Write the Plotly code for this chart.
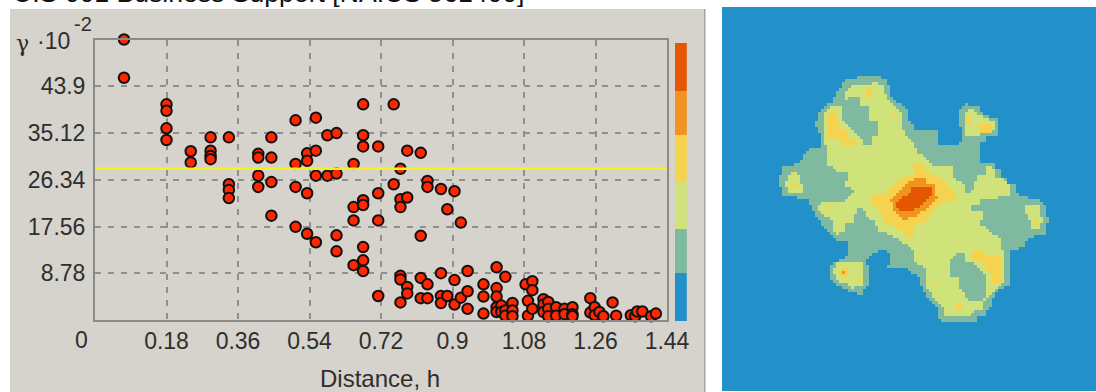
import numpy as np
import plotly.graph_objects as go

W, H = 1096, 392

TITLE = "U.S 001 Business Support [NAICS 561400]"
X_TICKS = [0.18, 0.36, 0.54, 0.72, 0.9, 1.08, 1.26, 1.44]
X_LABELS = ["0.18", "0.36", "0.54", "0.72", "0.9", "1.08", "1.26", "1.44"]
Y_TICKS = [8.78, 17.56, 26.34, 35.12, 43.9]
Y_LABELS = ["8.78", "17.56", "26.34", "35.12", "43.9"]
X_MAX = 1.44
Y_MAX = 52.68
SILL = 28.4

# variogram cloud, grouped by lag distance
CLOUD = [
    (0.073, [52.68, 45.5]),
    (0.180, [40.5, 39.3, 36.0, 33.8]),
    (0.241, [31.7, 29.6]),
    (0.291, [34.3, 31.8, 30.8, 30.2]),
    (0.337, [34.3, 25.5, 24.4, 22.9]),
    (0.411, [31.2, 30.5, 27.1, 25.0]),
    (0.444, [34.3, 30.5, 25.9, 19.6]),
    (0.505, [37.5, 29.3, 25.0, 17.5]),
    (0.534, [31.3, 29.9, 23.8, 16.2]),
    (0.556, [38.0, 31.8, 27.1, 14.6]),
    (0.585, [34.7, 27.1]),
    (0.608, [35.1, 27.5, 15.9, 12.9]),
    (0.651, [29.3, 21.2, 18.7, 10.3]),
    (0.675, [40.5, 34.7, 32.6, 22.5, 21.6, 13.7, 11.2, 9.2]),
    (0.713, [32.6, 23.8, 18.7, 4.5]),
    (0.752, [40.5, 25.5]),
    (0.769, [28.4, 22.7, 21.2, 8.3, 7.6, 3.3]),
    (0.786, [31.8, 23.0, 6.2, 5.0]),
    (0.820, [31.4, 15.8, 7.9, 4.1]),
    (0.837, [26.1, 25.0, 6.7, 4.1]),
    (0.871, [24.6, 8.8, 4.5, 3.2]),
    (0.887, [20.8, 4.5]),
    (0.905, [24.2, 7.5, 2.9]),
    (0.921, [18.3, 4.2]),
    (0.938, [9.2, 5.4, 2.1]),
    (0.978, [6.7, 4.4, 1.2]),
    (1.011, [9.9, 6.0, 4.4, 2.4, 1.5]),
    (1.023, [2.7, 1.5]),
    (1.033, [8.1, 1.8, 0.8]),
    (1.051, [3.2, 1.8, 0.7]),
    (1.084, [6.7]),
    (1.090, [3.6, 0.8]),
    (1.101, [7.3, 5.6, 2.1]),
    (1.129, [3.9, 2.9, 1.5]),
    (1.141, [3.4, 2.1, 0.7]),
    (1.161, [2.4, 0.8]),
    (1.182, [2.1, 1.1]),
    (1.202, [2.4, 1.1, 0.7]),
    (1.247, [4.1, 1.4]),
    (1.258, [2.4, 0.9]),
    (1.270, [1.5]),
    (1.280, [0.7]),
    (1.303, [3.3]),
    (1.312, [0.8]),
    (1.349, [0.9]),
    (1.360, [0.7]),
    (1.365, [1.6]),
    (1.378, [1.6]),
    (1.400, [0.7]),
    (1.412, [1.2]),
]
distance = [d for d, g in CLOUD for _ in g]
gamma = [v for _, g in CLOUD for v in g]

LEVEL_COLORS = ["#2391C9", "#7FB9A0", "#D0E27A", "#F5D34F", "#F0941F", "#E55600"]
LEVEL_SPANS = [48, 44, 47, 47, 44, 48]

MAP_REGIONS = [
    (1, [(856,76),(882,76),(882,79),(888,79),(888,85),(891,85),(891,97),(898,103),(905,105),(907,110),(908,120),(913,125),(914,129),(937,129),(937,146),(955,146),(962,140),(961,127),(958,125),(958,113),(963,107),(967,102),(970,105),(977,105),(982,113),(998,120),(999,135),(987,137),(987,140),(981,143),(981,162),(996,162),(996,168),(1002,168),(1002,177),(1007,178),(1007,183),(1015,185),(1019,196),(1037,199),(1045,205),(1045,215),(1048,217),(1048,222),(1045,223),(1045,234),(1033,235),(1032,239),(1025,240),(1025,245),(1022,247),(1016,250),(1010,252),(1010,272),(1013,273),(1010,275),(1010,285),(1002,288),(995,293),(993,301),(990,307),(987,310),(987,315),(978,317),(978,321),(940,321),(937,313),(937,307),(931,300),(925,295),(923,286),(920,285),(920,277),(914,273),(908,272),(908,268),(888,268),(888,266),(891,265),(891,255),(888,251),(879,251),(873,254),(870,257),(867,260),(869,275),(869,285),(864,288),(864,294),(856,294),(856,292),(847,292),(847,289),(840,286),(832,282),(829,278),(829,267),(832,263),(841,260),(847,257),(847,240),(835,240),(832,235),(823,227),(817,217),(812,208),(809,202),(809,199),(783,196),(780,185),(780,175),(783,167),(797,164),(803,157),(809,149),(818,149),(823,146),(818,129),(815,127),(818,115),(825,105),(832,102),(835,95),(842,85),(847,79),(856,79)]),
    (2, [(853,85),(873,85),(873,82),(885,85),(885,94),(891,102),(898,108),(902,112),(902,128),(907,137),(913,142),(917,152),(930,162),(937,167),(952,167),(952,177),(965,185),(965,193),(972,193),(978,175),(985,175),(988,164),(993,168),(995,177),(1003,178),(1010,187),(1010,196),(997,196),(997,198),(981,198),(981,205),(972,205),(972,210),(983,210),(983,217),(981,222),(972,223),(983,225),(987,230),(1000,237),(1001,250),(1004,252),(1004,283),(997,289),(993,293),(983,301),(983,310),(970,312),(970,315),(943,315),(943,307),(937,302),(931,294),(926,285),(926,270),(920,265),(914,260),(912,248),(902,242),(895,237),(877,230),(876,222),(870,220),(860,205),(856,212),(853,217),(853,222),(844,225),(844,233),(835,234),(832,225),(832,219),(820,213),(818,205),(823,203),(850,200),(847,196),(856,191),(844,185),(850,172),(840,172),(826,164),(826,155),(829,148),(825,143),(824,115),(829,108),(843,105),(844,93)]),
    (2, [(786,183),(791,170),(800,176),(803,193),(788,193)]),
    (2, [(965,135),(964,113),(970,108),(980,115),(996,123),(996,130),(983,133),(980,135),(972,137)]),
    (2, [(1025,205),(1039,205),(1039,216),(1042,217),(1042,222),(1039,223),(1039,228),(1031,228),(1031,223),(1027,217)]),
    (2, [(835,263),(862,263),(864,275),(864,286),(852,288),(847,283),(838,281),(835,275),(832,272),(835,267)]),
    (1, [(850,97),(859,97),(859,105),(870,108),(870,120),(879,120),(879,137),(873,137),(873,146),(864,146),(864,140),(856,135),(847,125),(841,118),(841,103)]),
    (1, [(955,254),(964,254),(964,260),(974,264),(983,272),(987,278),(987,292),(983,301),(969,301),(964,292),(958,286),(958,277),(949,277),(949,265)]),
    (3, [(911,162),(923,162),(927,172),(935,175),(945,180),(947,187),(957,196),(957,201),(943,203),(937,207),(933,212),(928,217),(927,222),(914,225),(914,237),(905,237),(905,233),(895,227),(883,221),(882,213),(876,208),(869,198),(873,196),(885,193),(893,185),(902,177),(913,175),(914,167)]),
    (3, [(829,113),(835,113),(838,118),(838,129),(847,129),(847,137),(856,140),(856,145),(842,146),(841,139),(829,139),(826,135),(826,129),(829,123),(826,120)]),
    (3, [(867,88),(873,88),(873,97),(867,97)]),
    (3, [(893,111),(896,111),(896,114),(893,114)]),
    (3, [(966,117),(972,117),(972,123),(966,123)]),
    (3, [(978,126),(981,123),(991,123),(991,132),(981,132)]),
    (3, [(791,172),(794,172),(794,177),(791,177)]),
    (3, [(791,184),(797,184),(797,187),(791,187)]),
    (3, [(1000,187),(1004,187),(1004,193),(1000,193)]),
    (3, [(826,205),(829,205),(829,210),(826,210)]),
    (3, [(1027,210),(1037,210),(1037,212),(1027,212)]),
    (3, [(1034,219),(1037,219),(1037,225),(1034,225)]),
    (3, [(972,254),(975,251),(982,251),(987,257),(1000,257),(1001,282),(993,282),(990,273),(982,263),(972,260)]),
    (3, [(931,283),(937,283),(937,286),(931,286)]),
    (3, [(955,304),(961,304),(961,310),(955,310)]),
    (3, [(856,277),(861,277),(861,283),(856,283)]),
    (3, [(841,269),(847,269),(847,272),(849,272),(849,275),(847,275),(847,277),(841,277),(841,275),(838,275),(838,272),(841,272)]),
    (4, [(841,272),(844,272),(844,275),(841,275)]),
    (4, [(917,178),(926,178),(927,184),(934,184),(934,190),(937,197),(937,198),(933,203),(927,210),(920,213),(913,218),(902,219),(892,208),(891,198),(895,197),(905,185),(910,181)]),
    (5, [(913,187),(931,187),(931,195),(928,197),(923,205),(913,210),(902,212),(896,205),(902,198),(908,195)]),
]


def inside(px, py, poly):
    poly = np.asarray(poly, float)
    xa, ya = poly[:, 0], poly[:, 1]
    xb, yb = np.roll(xa, -1), np.roll(ya, -1)
    hit = np.zeros(px.shape, bool)
    for x0, y0, x1, y1 in zip(xa, ya, xb, yb):
        if y0 == y1:
            continue
        cross = ((y0 > py) != (y1 > py)) & (px < x0 + (py - y0) * (x1 - x0) / (y1 - y0))
        hit ^= cross
    return hit


cell_x = np.arange(723.5, 1096, 3.0)
cell_y = np.arange(8.5, 392, 3.0)
gx, gy = np.meshgrid(cell_x, cell_y)
level_grid = np.zeros(gx.shape, int)
for level, outline in MAP_REGIONS:
    level_grid[inside(gx, gy, outline)] = level

n = len(LEVEL_COLORS)
colorscale = []
for i, c in enumerate(LEVEL_COLORS):
    colorscale += [[i / n, c], [(i + 1) / n, c]]

PANEL = "#D6D2CC"
FRAME = "#8A8A8A"
GRID = "#8F8F8F"
TEXT = "#2E2E2E"
FONT = "Liberation Sans, Arial, sans-serif"


def fx(p):
    return p / W


def fy(p):
    return 1 - p / H


fig = go.Figure()
fig.add_trace(go.Scatter(
    x=distance, y=gamma, mode="markers", cliponaxis=False, showlegend=False,
    marker=dict(size=10.5, color="#FF2600", line=dict(color="#111111", width=2)),
    xaxis="x", yaxis="y"))
fig.add_trace(go.Scatter(
    x=[0, X_MAX], y=[SILL, SILL], mode="lines", showlegend=False,
    line=dict(color="#F7F21A", width=2.6), xaxis="x", yaxis="y"))
fig.add_trace(go.Bar(
    x=[0] * n, y=LEVEL_SPANS, marker=dict(color=LEVEL_COLORS, line=dict(width=0)),
    showlegend=False, xaxis="x2", yaxis="y2"))
fig.add_trace(go.Heatmap(
    x=cell_x, y=cell_y, z=level_grid, zmin=0, zmax=n, colorscale=colorscale,
    showscale=False, xaxis="x3", yaxis="y3"))

axis_font = dict(family=FONT, size=23, color=TEXT)
annos = [
    dict(text=TITLE, x=fx(12), y=fy(9), xanchor="left", yanchor="bottom",
         font=dict(family=FONT, size=26.6, color="#111111")),
    dict(text="γ", x=fx(15), y=fy(43), xanchor="left", yanchor="middle",
         font=dict(family="DejaVu Serif, serif", size=22, color=TEXT)),
    dict(text="·10", x=fx(36), y=fy(41), xanchor="left", yanchor="middle", font=axis_font),
    dict(text="-2", x=fx(73), y=fy(24), xanchor="left", yanchor="middle",
         font=dict(family=FONT, size=20, color=TEXT)),
    dict(text="0", x=fx(81.5), y=fy(340), xanchor="center", yanchor="middle", font=axis_font),
    dict(text="Distance, h", x=fx(379.5), y=fy(378), xanchor="center", yanchor="middle",
         font=dict(family=FONT, size=24, color=TEXT)),
]
for a in annos:
    a.update(xref="paper", yref="paper", showarrow=False, borderpad=0)

fig.update_layout(
    template="none",
    width=W, height=H, autosize=False, margin=dict(l=0, r=0, t=0, b=0, pad=0),
    paper_bgcolor="white", plot_bgcolor="rgba(0,0,0,0)",
    bargap=0, barmode="stack", font=dict(family=FONT),
    shapes=[
        dict(type="rect", xref="paper", yref="paper", layer="below",
             x0=fx(10), x1=fx(704), y0=0, y1=fy(9), fillcolor=PANEL, line=dict(width=0)),
        dict(type="rect", xref="paper", yref="paper", layer="below",
             x0=fx(704), x1=fx(705.5), y0=0, y1=fy(9), fillcolor="#A3A3A3", line=dict(width=0)),
    ],
    annotations=annos,
    xaxis=dict(domain=[fx(95), fx(667)], range=[0, X_MAX], tickvals=X_TICKS, ticktext=X_LABELS,
               automargin=False, showgrid=True, gridcolor=GRID, gridwidth=1.6, griddash="6px,7px",
               showline=True, mirror=True, linecolor=FRAME, linewidth=2, zeroline=False,
               ticks="", tickfont=axis_font, ticklabelstandoff=-1),
    yaxis=dict(domain=[fy(320), fy(39.5)], range=[0, Y_MAX], tickvals=Y_TICKS, ticktext=Y_LABELS,
               automargin=False, showgrid=True, gridcolor=GRID, gridwidth=1.6, griddash="6px,7px",
               showline=True, mirror=True, linecolor=FRAME, linewidth=2, zeroline=False,
               ticks="", tickfont=axis_font, ticklabelstandoff=3),
    xaxis2=dict(domain=[fx(675), fx(686.8)], range=[-0.5, 0.5], visible=False, automargin=False),
    yaxis2=dict(domain=[fy(321), fy(43)], range=[0, sum(LEVEL_SPANS)], visible=False, automargin=False),
    xaxis3=dict(domain=[fx(722), 1], range=[722, 1096], visible=False, automargin=False),
    yaxis3=dict(domain=[0, fy(7)], range=[392, 7], visible=False, automargin=False),
)

fig.write_html("out.html",
               config={"displayModeBar": False, "responsive": False},
               post_script="document.body.style.margin='0';document.documentElement.style.overflow='hidden';")
